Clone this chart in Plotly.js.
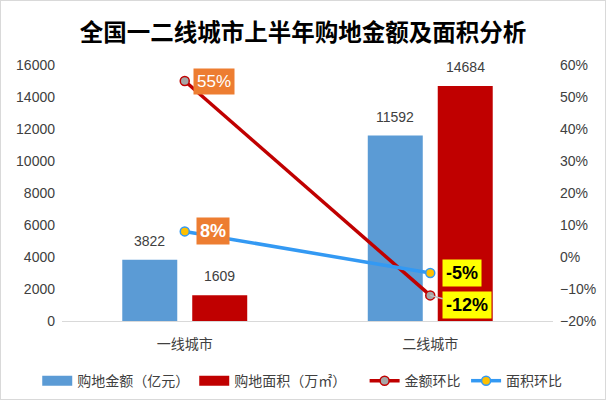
<!DOCTYPE html>
<html>
<head>
<meta charset="utf-8">
<title>一二线城市购地</title>
<script src="https://cdn.plot.ly/plotly-3.0.1.min.js"></script>
<style>
	body {
		margin: 0;
		background-color: white;
	}
	#chart {
		width: 606px;
		height: 400px;
		box-sizing: border-box;
		border: 1px solid #d9d9d9;
	}
</style>
</head>
<body>
<div id="chart"></div>
<script>
	// data
	var cities = ['一线城市', '二线城市'];
	var landAmount = [3822, 11592];     // 购地金额（亿元）
	var landArea = [1609, 14684];       // 购地面积（万㎡）
	var amountChange = [0.55, -0.12];   // 金额环比
	var areaChange = [0.08, -0.05];     // 面积环比
	var amountChangeText = ['55%', '-12%'];
	var areaChangeText = ['8%', '-5%'];

	var font = '"Liberation Sans", "Noto Sans CJK SC", sans-serif';
	var blue = '#5B9BD5', red = '#C00000', lineBlue = '#3399F3';

	var amountBars = {
	  x: cities,
	  y: landAmount,
	  type: 'bar',
	  name: '购地金额（亿元）',
	  showlegend: false,
	  marker: {color: blue}
	};

	var areaBars = {
	  x: cities,
	  y: landArea,
	  type: 'bar',
	  name: '购地面积（万㎡）',
	  showlegend: false,
	  marker: {color: red}
	};

	// legend keys for the bars (wide swatch like the original)
	var amountKey = {x: [null], y: [null], type: 'scatter', mode: 'lines', name: '购地金额（亿元）',
	  line: {color: blue, width: 10}, legend: 'legend'};
	var areaKey = {x: [null], y: [null], type: 'scatter', mode: 'lines', name: '购地面积（万㎡）',
	  line: {color: red, width: 10}, legend: 'legend'};

	var amountLine = {
	  x: cities,
	  y: amountChange,
	  yaxis: 'y2',
	  type: 'scatter',
	  mode: 'lines+markers',
	  name: '金额环比',
	  legend: 'legend2',
	  line: {color: red, width: 3.5},
	  marker: {size: 9, color: '#A6A6A6', line: {color: red, width: 1.5}},
	  cliponaxis: false
	};

	var areaLine = {
	  x: cities,
	  y: areaChange,
	  yaxis: 'y2',
	  type: 'scatter',
	  mode: 'lines+markers',
	  name: '面积环比',
	  legend: 'legend3',
	  line: {color: lineBlue, width: 3.5},
	  marker: {size: 9, color: '#FFC000', line: {color: lineBlue, width: 1.5}},
	  cliponaxis: false
	};

	var annotations = [
	  {x: cities[0], y: amountChange[0], yref: 'y2', text: amountChangeText[0], showarrow: false,
	   xshift: 29, bgcolor: '#ED7D31', borderpad: 3, font: {size: 17, color: 'white', family: font}},
	  {x: cities[0], y: areaChange[0], yref: 'y2', text: '<b>' + areaChangeText[0] + '</b>', showarrow: false,
	   xshift: 28, bgcolor: '#ED7D31', borderpad: 3, font: {size: 18, color: 'white', family: font}},
	  {x: cities[1], y: areaChange[1], yref: 'y2', text: '<b>' + areaChangeText[1] + '</b>', showarrow: false,
	   xshift: 32, bgcolor: '#FFFF00', borderpad: 3, font: {size: 18, color: 'black', family: font}},
	  {x: cities[1], y: amountChange[1], yref: 'y2', text: '<b>' + amountChangeText[1] + '</b>',
	   showarrow: true, arrowhead: 0, arrowcolor: '#BFBFBF', arrowwidth: 1.5, ax: 37, ay: 10,
	   bgcolor: '#FFFF00', borderpad: 3, font: {size: 18, color: 'black', family: font}}
	];

	// value labels above the bars
	cities.forEach(function (c, i) {
	  annotations.push({x: c, y: landAmount[i], text: String(landAmount[i]), showarrow: false,
	    xshift: -35, yanchor: 'bottom', yshift: 9, font: {size: 14, color: '#404040'}});
	  annotations.push({x: c, y: landArea[i], text: String(landArea[i]), showarrow: false,
	    xshift: 35, yanchor: 'bottom', yshift: 9, font: {size: 14, color: '#404040'}});
	});

	function legendAt(x) {
	  return {
	    orientation: 'h',
	    xref: 'container', yref: 'container',
	    x: x, xanchor: 'left',
	    y: 0.045, yanchor: 'middle',
	    font: {size: 14, color: '#404040'},
	    itemwidth: 30,
	    bgcolor: 'rgba(0,0,0,0)'
	  };
	}

	var layout = {
	  width: 604,
	  height: 398,
	  margin: {l: 61, r: 52, t: 64, b: 78, autoexpand: false},
	  paper_bgcolor: 'white',
	  plot_bgcolor: 'white',
	  font: {family: font, color: '#404040', size: 14},
	  title: {
	    text: '<b>全国一二线城市上半年购地金额及面积分析</b>',
	    font: {family: '"Noto Sans CJK SC", sans-serif', size: 23.5, color: 'black'},
	    x: 0.5, xref: 'container', y: 0.94, yref: 'container', xanchor: 'center'
	  },
	  barmode: 'group',
	  bargap: 0.43,
	  bargroupgap: 0.214,
	  showlegend: true,
	  legend: legendAt(0.06),
	  legend2: legendAt(0.602),
	  legend3: legendAt(0.77),
	  hovermode: false,
	  xaxis: {
	    showline: true,
	    linecolor: '#D9D9D9',
	    linewidth: 1,
	    ticks: '',
	    tickfont: {size: 14, color: '#404040'},
	    ticklabelstandoff: 10
	  },
	  yaxis: {
	    range: [0, 16000],
	    dtick: 2000,
	    tickformat: 'd',
	    showgrid: false,
	    zeroline: false,
	    showline: false,
	    tickfont: {size: 14, color: '#404040'},
	    ticklabelstandoff: 6
	  },
	  yaxis2: {
	    overlaying: 'y',
	    side: 'right',
	    range: [-0.2, 0.6],
	    dtick: 0.1,
	    tickformat: '.0%',
	    showgrid: false,
	    zeroline: false,
	    showline: false,
	    tickfont: {size: 14, color: '#404040'},
	    ticklabelstandoff: 6
	  },
	  annotations: annotations
	};

	Plotly.newPlot('chart', [amountBars, areaBars, amountKey, areaKey, amountLine, areaLine], layout, {displayModeBar: false, staticPlot: true});
</script>
</body>
</html>
